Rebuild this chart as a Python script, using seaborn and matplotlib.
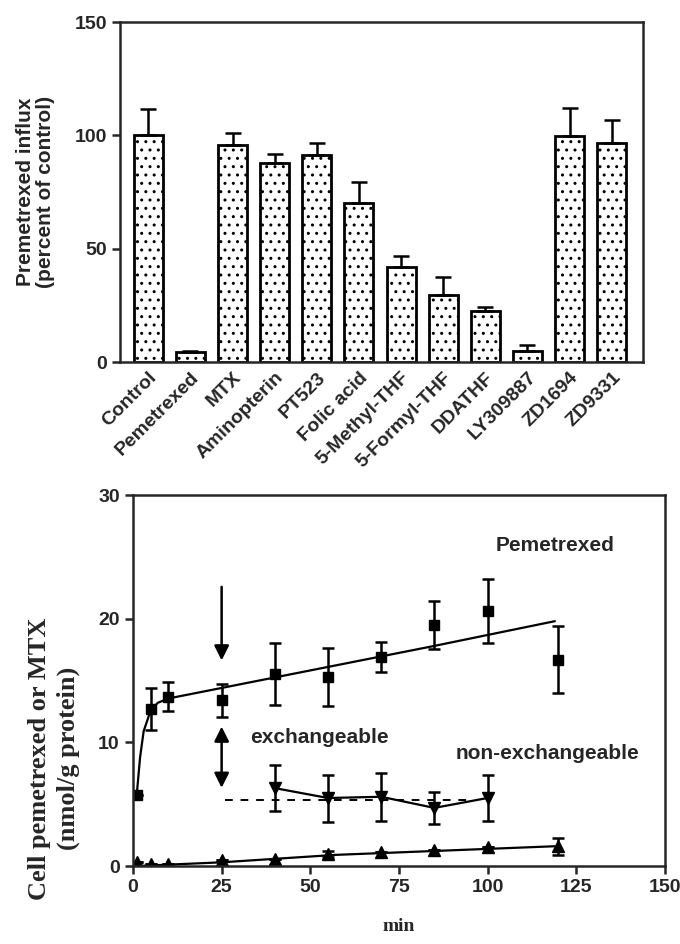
import numpy as np
import matplotlib
matplotlib.use("Agg")
import matplotlib.pyplot as plt
import seaborn as sns
import pandas as pd

# top panel: influx in presence of competitors
drugs = ["Control", "Pemetrexed", "MTX", "Aminopterin", "PT523", "Folic acid",
         "5-Methyl-THF", "5-Formyl-THF", "DDATHF", "LY309887", "ZD1694", "ZD9331"]
influx = [100, 4.5, 96, 88, 91.3, 70.4, 42, 29.5, 22.6, 5, 99.7, 96.7]
influx_err = [11.8, 0.5, 5.3, 4, 5.2, 9, 4.7, 8, 1.8, 2.5, 12.3, 10.3]

# bottom panel: uptake / efflux time course
uptake_min = [1, 5, 10, 25, 40, 55, 70, 85, 100, 120]
pem_total = [5.75, 12.7, 13.7, 13.4, 15.5, 15.3, 16.9, 19.5, 20.6, 16.7]
pem_total_err = [0, 1.7, 1.2, 1.35, 2.5, 2.35, 1.2, 1.95, 2.6, 2.7]
fit_min = [1, 2, 3, 5, 7, 10, 25, 55, 85, 119]
fit_total = [5.6, 8.8, 10.9, 12.6, 13.2, 13.55, 14.4, 16.1, 17.8, 19.8]

nonexch = [0.3, 0.15, 0.2, 0.5, 0.6, 1.0, 1.15, 1.3, 1.5, 1.6]
nonexch_err = [0, 0, 0, 0, 0, 0.25, 0, 0, 0, 0.7]
nonexch_fit_min = [1, 25, 57, 119]
nonexch_fit = [0.0, 0.3, 0.9, 1.6]

efflux_min = [40, 55, 70, 85, 100]
efflux = [6.3, 5.5, 5.6, 4.7, 5.5]
efflux_err = [1.85, 1.9, 1.95, 1.3, 1.85]
plateau_min = [26, 96]
plateau = [5.35, 5.35]

sns.set_style("ticks")
plt.rcParams["font.family"] = ["Liberation Sans", "DejaVu Sans"]
plt.rcParams["hatch.linewidth"] = 1.0
serif = ["Liberation Serif", "DejaVu Serif"]

fig = plt.figure(figsize=(6.8, 9.44), dpi=100)
ax1 = fig.add_axes([0.1765, 0.6165, 0.769, 0.360])
ax2 = fig.add_axes([0.1956, 0.0826, 0.782, 0.393])

df = pd.DataFrame({"drug": drugs, "influx": influx})
sns.barplot(data=df, x="drug", y="influx", ax=ax1, color="white",
            edgecolor="black", linewidth=2, width=0.69, errorbar=None)
for p in ax1.patches:
    p.set_hatch("..")
ax1.errorbar(np.arange(len(drugs)), influx,
             yerr=[np.zeros(len(drugs)), influx_err],
             fmt="none", ecolor="black", elinewidth=1.8, capsize=6, capthick=1.8)
ax1.set_xlim(-0.67, 11.74)
ax1.set_ylim(0, 150)
ax1.set_yticks([0, 50, 100, 150])
ax1.set_xlabel("")
ax1.set_ylabel("Premetrexed influx\n(percent of control)", fontsize=15,
               fontweight="bold", labelpad=14, linespacing=1.05)
ax1.set_xticks(np.arange(len(drugs)))
ax1.set_xticklabels(drugs, rotation=45, ha="right", rotation_mode="anchor",
                    fontsize=14, fontweight="bold")
ax1.tick_params(axis="x", length=0, pad=5)
ax1.tick_params(axis="y", labelsize=14, width=1.8, length=6)
for lab in ax1.get_yticklabels():
    lab.set_fontweight("bold")
for s in ax1.spines.values():
    s.set_visible(True)
    s.set_linewidth(1.8)

# bottom panel
sns.lineplot(x=fit_min, y=fit_total, ax=ax2, color="black", linewidth=1.6)
sns.lineplot(x=nonexch_fit_min, y=nonexch_fit, ax=ax2, color="black", linewidth=1.6)
sns.lineplot(x=efflux_min, y=efflux, ax=ax2, color="black", linewidth=1.6)
sns.lineplot(x=plateau_min, y=plateau, ax=ax2, color="black", linewidth=1.4,
             linestyle=(0, (4, 4)))

ax2.errorbar(uptake_min, pem_total, yerr=pem_total_err, fmt="s", color="black",
             markersize=7, elinewidth=1.8, capsize=4, capthick=1.8)
ax2.errorbar(uptake_min, nonexch, yerr=nonexch_err, fmt="^", color="black",
             markersize=8, elinewidth=1.8, capsize=4, capthick=1.8)
ax2.errorbar(efflux_min, efflux, yerr=efflux_err, fmt="v", color="black",
             markersize=8, elinewidth=1.8, capsize=4, capthick=1.8)

# arrows
ax2.annotate("", xy=(25, 16.4), xytext=(25, 22.8),
             arrowprops=dict(arrowstyle="-|>", color="black", lw=1.8,
                             mutation_scale=22))
ax2.annotate("", xy=(25, 6.1), xytext=(25, 11.5),
             arrowprops=dict(arrowstyle="<|-|>", color="black", lw=1.8,
                             mutation_scale=22))

ax2.text(119, 25.9, "Pemetrexed", ha="center", va="center", fontsize=15,
         fontweight="bold")
ax2.text(33, 10.4, "exchangeable", ha="left", va="center", fontsize=15,
         fontweight="bold")
ax2.text(117, 9.1, "non-exchangeable", ha="center", va="center", fontsize=15,
         fontweight="bold")

ax2.set_xlim(0, 150)
ax2.set_ylim(0, 30)
ax2.set_xticks([0, 25, 50, 75, 100, 125, 150])
ax2.set_yticks([0, 10, 20, 30])
ax2.tick_params(axis="both", labelsize=14, width=1.8, length=6)
for lab in ax2.get_xticklabels() + ax2.get_yticklabels():
    lab.set_fontweight("bold")
ax2.set_xlabel("min", fontsize=14, fontweight="bold", family=serif, labelpad=16)
ax2.set_ylabel("Cell pemetrexed or MTX\n(nmol/g protein)", fontsize=19,
               fontweight="bold", family=serif, linespacing=1.3)
ax2.yaxis.set_label_coords(-0.10, 0.29)
for s in ax2.spines.values():
    s.set_visible(True)
    s.set_linewidth(1.8)

fig.savefig("out.png", dpi=100)
